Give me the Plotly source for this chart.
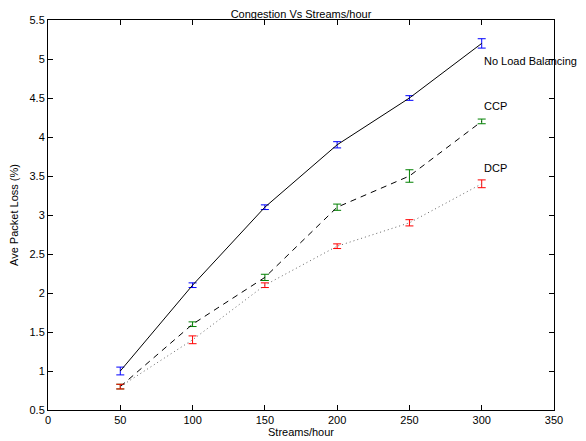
import plotly.graph_objects as go

streams = [50, 100, 150, 200, 250, 300]
no_lb = [1.0, 2.1, 3.1, 3.9, 4.5, 5.2]
no_lb_err = [0.05, 0.03, 0.03, 0.04, 0.03, 0.06]
ccp = [0.8, 1.6, 2.2, 3.1, 3.5, 4.2]
ccp_err = [0.03, 0.03, 0.04, 0.04, 0.08, 0.03]
dcp = [0.8, 1.4, 2.1, 2.6, 2.9, 3.4]
dcp_err = [0.03, 0.05, 0.03, 0.03, 0.04, 0.05]

labels = ["No Load Balancing", "CCP", "DCP"]
label_pos = [(300, 4.97), (300, 4.40), (300, 3.60)]

fig = go.Figure()
series = [
    (no_lb, no_lb_err, "solid", "black", "blue"),
    (ccp, ccp_err, "6px,5px", "black", "green"),
    (dcp, dcp_err, "1px,3px", "#666666", "red"),
]
for (ys, es, dash, lc, ec), name in zip(series, labels):
    fig.add_trace(go.Scatter(
        x=streams, y=ys, mode="lines", name=name,
        line=dict(color=lc, width=1, dash=dash),
        error_y=dict(type="data", array=es, visible=True, color=ec, thickness=1, width=4),
    ))

for name, (x, y) in zip(labels, label_pos):
    fig.add_annotation(x=x, y=y, text=name, showarrow=False, xanchor="left", yanchor="middle",
                       xshift=0, font=dict(size=11, color="black"))

axis_common = dict(showline=True, mirror="ticks", linecolor="black", linewidth=1,
                   ticks="inside", ticklen=5, tickcolor="black", showgrid=False, zeroline=False,
                   automargin=False, tickfont=dict(size=11, color="black"))
fig.update_xaxes(range=[0, 350], dtick=50, title=dict(text="Streams/hour", font=dict(size=11), standoff=2), **axis_common)
fig.update_yaxes(range=[0.5, 5.5], dtick=0.5, title=dict(text="Ave Packet Loss (%)", font=dict(size=11), standoff=9), **axis_common)

# page body has an 8px margin, so the figure is offset by 8px; size it to the visible area
fig.update_layout(
    width=578, height=433,
    margin=dict(l=40, r=32, t=12, b=31, autoexpand=False),
    plot_bgcolor="white", paper_bgcolor="white",
    font=dict(family="Liberation Sans, Arial, sans-serif", size=11, color="black"),
    showlegend=False,
    title=dict(text="Congestion Vs Streams/hour", x=0.5, xref="paper", y=0.995, yanchor="top", pad=dict(t=0),
               font=dict(size=11), automargin=False),
)
fig.write_html("out.html")
